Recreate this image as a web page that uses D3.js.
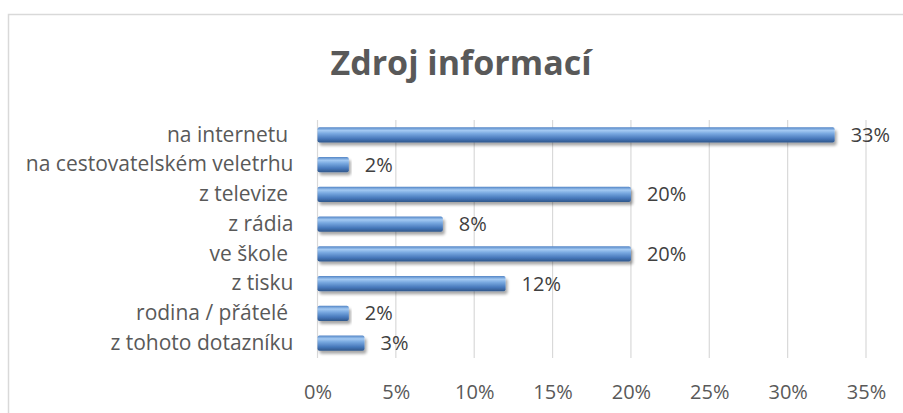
<!DOCTYPE html>
<html>
<head>
<meta charset="utf-8">
<script src="https://cdn.jsdelivr.net/npm/d3@7"></script>
<style>
  body { margin: 0; background: #fff; }
  text { font-family: "Open Sans", sans-serif; white-space: pre; }
</style>
</head>
<body>
<script>
// chart data
var categories = ["na internetu ", "na cestovatelském veletrhu", "z televize ", "z rádia",
  "ve škole ", "z tisku", "rodina / přátelé ", "z tohoto dotazníku"];
var values = [33, 2, 20, 8, 20, 12, 2, 3];
var tickValues = [0, 5, 10, 15, 20, 25, 30, 35];
var title = "Zdroj informací";

var width = 903, height = 413;

var svg = d3.select("body").append("svg")
  .attr("width", width)
  .attr("height", height);

// bar gradient (bevelled look)
var defs = svg.append("defs");
var grad = defs.append("linearGradient")
  .attr("id", "barGrad")
  .attr("x1", 0).attr("y1", 0).attr("x2", 0).attr("y2", 1);
grad.append("stop").attr("offset", "0%").attr("stop-color", "#4f82c4");
grad.append("stop").attr("offset", "22%").attr("stop-color", "#a3c9f2");
grad.append("stop").attr("offset", "42%").attr("stop-color", "#78a8e0");
grad.append("stop").attr("offset", "75%").attr("stop-color", "#4677ba");
grad.append("stop").attr("offset", "100%").attr("stop-color", "#2f5689");

var filter = defs.append("filter").attr("id", "shadow")
  .attr("x", "-5%").attr("y", "-30%").attr("width", "115%").attr("height", "190%");
filter.append("feGaussianBlur").attr("in", "SourceAlpha").attr("stdDeviation", 1.6);
filter.append("feOffset").attr("dx", 2).attr("dy", 3).attr("result", "off");
filter.append("feComponentTransfer").append("feFuncA").attr("type", "linear").attr("slope", 0.35);
var merge = filter.append("feMerge");
merge.append("feMergeNode");
merge.append("feMergeNode").attr("in", "SourceGraphic");

// chart border (right and bottom run off the picture)
svg.append("rect")
  .attr("x", 8.5).attr("y", 14.5)
  .attr("width", 1000).attr("height", 1000)
  .attr("fill", "none")
  .attr("stroke", "#d9d9d9")
  .attr("stroke-width", 1.5);

var plot = { left: 317.5, right: 866, top: 120, bottom: 358 };

var x = d3.scaleLinear()
  .domain([0, 35])
  .range([plot.left, plot.right]);

var y = d3.scaleBand()
  .domain(categories)
  .range([plot.top, plot.bottom])
  .paddingInner(0.48)
  .paddingOuter(0.24);

// gridlines
svg.append("g").selectAll("line")
  .data(tickValues)
  .enter().append("line")
  .attr("x1", function(d){ return x(d); })
  .attr("x2", function(d){ return x(d); })
  .attr("y1", plot.top)
  .attr("y2", plot.bottom)
  .attr("stroke", "#d9d9d9")
  .attr("stroke-width", 1.2);

// x axis labels
var xAxis = d3.axisBottom(x)
  .tickValues(tickValues)
  .tickSize(0)
  .tickPadding(0)
  .tickFormat(function(d){ return d + "%"; });
var gx = svg.append("g")
  .attr("transform", "translate(0," + 382 + ")")
  .call(xAxis);
gx.select(".domain").remove();
gx.selectAll("text")
  .attr("dy", "0.85em")
  .style("font-size", "20px")
  .style("fill", "#595959");

// category labels
var yAxis = d3.axisLeft(y).tickSize(0).tickPadding(24);
var gy = svg.append("g")
  .attr("transform", "translate(" + plot.left + ",0)")
  .call(yAxis);
gy.select(".domain").remove();
gy.selectAll("text")
  .style("font-size", "21px")
  .style("fill", "#595959");

// bars
svg.append("g").selectAll("rect")
  .data(values)
  .enter().append("rect")
  .attr("x", x(0))
  .attr("y", function(d, i){ return y(categories[i]); })
  .attr("width", function(d){ return x(d) - x(0); })
  .attr("height", y.bandwidth())
  .attr("rx", 2)
  .attr("fill", "url(#barGrad)")
  .attr("filter", "url(#shadow)");

// value labels
svg.append("g").selectAll("text")
  .data(values)
  .enter().append("text")
  .attr("x", function(d){ return x(d) + 16; })
  .attr("y", function(d, i){ return y(categories[i]) + y.bandwidth() / 2; })
  .attr("dy", "0.35em")
  .style("font-size", "20px")
  .style("fill", "#404040")
  .text(function(d){ return d + "%"; });

// title
svg.append("text")
  .attr("x", 461)
  .attr("y", 75)
  .attr("text-anchor", "middle")
  .style("font-size", "34px")
  .style("font-weight", "bold")
  .style("fill", "#595959")
  .text(title);
</script>
</body>
</html>
